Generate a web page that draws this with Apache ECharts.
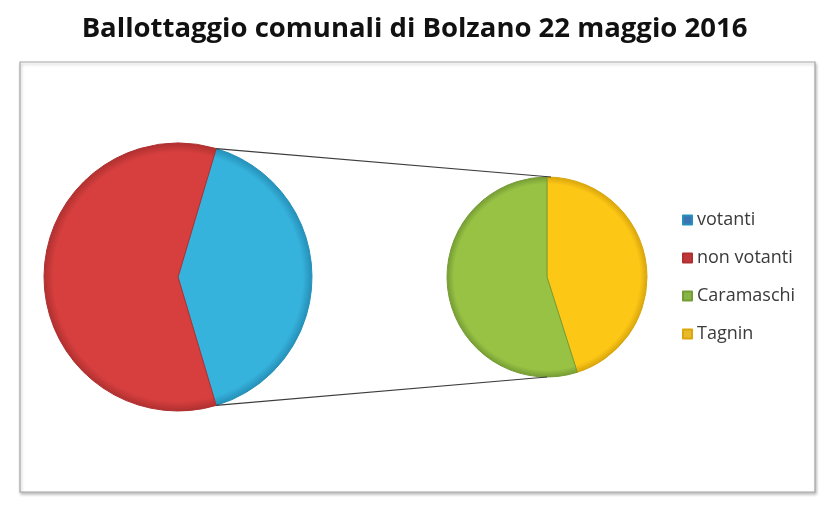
<!DOCTYPE html>
<html>
<head>
<meta charset="utf-8">
<script src="https://cdn.jsdelivr.net/npm/echarts@6/dist/echarts.min.js"></script>
<style>
html,body{margin:0;padding:0;background:#fff;}
#c{width:829px;height:511px;}
</style>
</head>
<body>
<div id="c"></div>
<script>
// ---- data ----
const titleText = 'Ballottaggio comunali di Bolzano 22 maggio 2016';
const mainNames = ['votanti', 'non votanti'];
const mainValues = [40.8, 59.2];
const subNames = ['Tagnin', 'Caramaschi'];
const subValues = [45.1, 54.9];
const legendOrder = ['votanti', 'non votanti', 'Caramaschi', 'Tagnin'];

// ---- styles ----
const sliceColors = {
  'votanti': ['#5fcbef', '#36b3dd', '#2590b8'],
  'non votanti': ['#e45a57', '#d63f3e', '#b03030'],
  'Caramaschi': ['#b0d55e', '#98c244', '#769d35'],
  'Tagnin': ['#ffd84a', '#fdc716', '#d9a60c']
};
const legendColors = {
  'votanti': '#3b73b5',
  'non votanti': '#c0373b',
  'Caramaschi': '#89b548',
  'Tagnin': '#e9b92a'
};

const C1 = [178, 277], R1 = 134;
const C2 = [547, 277], R2 = 100;

function grad(name, c, r) {
  const s = sliceColors[name];
  return {
    type: 'radial', x: c[0], y: c[1], r: r, global: true,
    colorStops: [
      { offset: 0, color: s[1] },
      { offset: 0.93, color: s[1] },
      { offset: 1, color: s[2] }
    ]
  };
}

const total1 = mainValues[0] + mainValues[1];
const halfSpan = mainValues[0] / total1 * 360 / 2; // votanti centred on 3 o'clock
const rad = halfSpan * Math.PI / 180;
const pTop = [C1[0] + R1 * Math.cos(rad), C1[1] - R1 * Math.sin(rad)];
const pBot = [C1[0] + R1 * Math.cos(rad), C1[1] + R1 * Math.sin(rad)];
const qTop = [C2[0] + 4, C2[1] - R2];
const qBot = [C2[0], C2[1] + R2];

const chart = echarts.init(document.getElementById('c'), null, { renderer: 'canvas' });
chart.setOption({
  animation: false,
  backgroundColor: '#ffffff',
  title: {
    text: titleText, left: 'center', top: 10,
    textStyle: { fontFamily: 'Open Sans', fontWeight: 'bold', fontSize: 27.5, color: '#111' }
  },
  legend: {
    orient: 'vertical', left: 677, top: 206, itemGap: 20,
    itemWidth: 9, itemHeight: 9, icon: 'rect',
    textStyle: { fontFamily: 'Open Sans', fontSize: 18, color: '#3a3a3a' },
    data: legendOrder.map(n => ({ name: n, itemStyle: { color: legendColors[n] } }))
  },
  graphic: [
    { type: 'rect', z: -10, shape: { x: 20, y: 62, width: 795, height: 430 },
      style: { fill: '#fff', stroke: '#a8a8a8', lineWidth: 1.2,
        shadowBlur: 3, shadowOffsetX: 1, shadowOffsetY: 2, shadowColor: 'rgba(0,0,0,0.25)' } },
    { type: 'line', z: 10, shape: { x1: pTop[0], y1: pTop[1], x2: qTop[0], y2: qTop[1] },
      style: { stroke: '#3c3c3c', lineWidth: 1.2 } },
    { type: 'line', z: 10, shape: { x1: pBot[0], y1: pBot[1], x2: qBot[0], y2: qBot[1] },
      style: { stroke: '#3c3c3c', lineWidth: 1.2 } }
  ],
  series: [
    {
      type: 'pie', center: C1, radius: [0, R1], startAngle: halfSpan, clockwise: true,
      label: { show: false }, labelLine: { show: false }, silent: true,
      data: mainNames.map((n, i) => ({
        name: n, value: mainValues[i],
        itemStyle: { color: grad(n, C1, R1), borderColor: sliceColors[n][2], borderWidth: 1 }
      }))
    },
    {
      type: 'pie', center: C2, radius: [0, R2], startAngle: 90, clockwise: true,
      label: { show: false }, labelLine: { show: false }, silent: true,
      data: subNames.map((n, i) => ({
        name: n, value: subValues[i],
        itemStyle: { color: grad(n, C2, R2), borderColor: sliceColors[n][2], borderWidth: 1 }
      }))
    }
  ]
});
</script>
</body>
</html>
